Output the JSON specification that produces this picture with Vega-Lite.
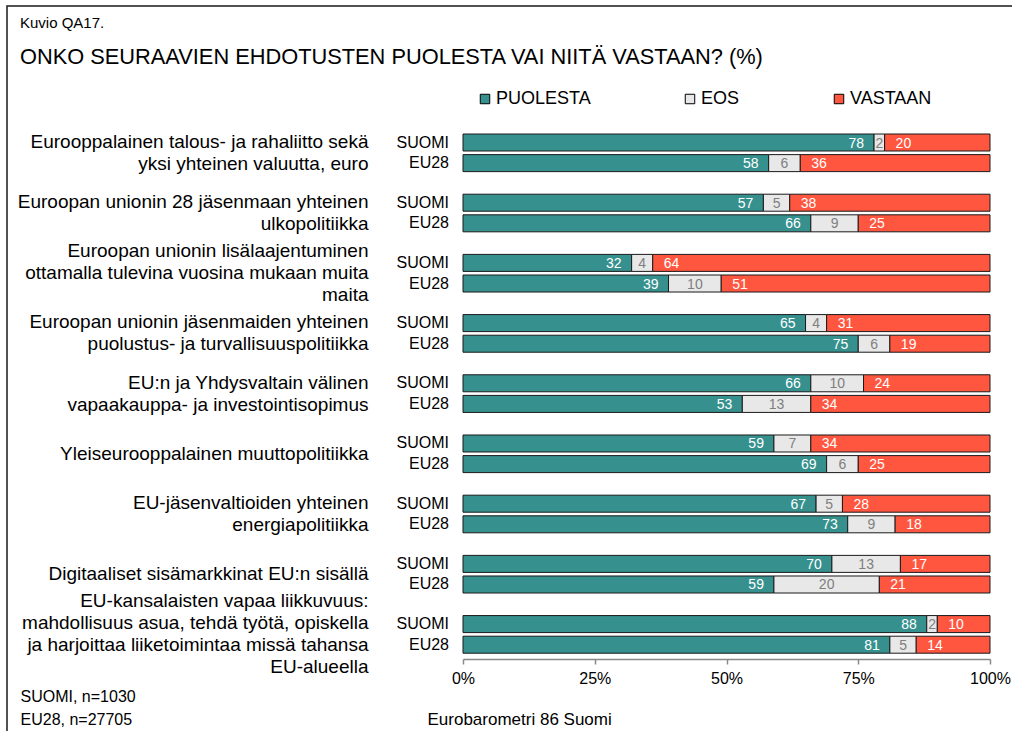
{
  "$schema": "https://vega.github.io/schema/vega-lite/v6.json",
  "width": 1005,
  "height": 725,
  "autosize": {"type": "none"},
  "padding": {"left": 7, "top": 6, "right": 0, "bottom": 0},
  "background": "white",
  "config": {
    "font": "Liberation Sans",
    "view": {"stroke": "#1a1a1a", "strokeWidth": 1.5, "strokeDash": [1005, 1730, 725]}
  },
  "title": {
    "text": "Kuvio QA17.",
    "subtitle": "ONKO SEURAAVIEN EHDOTUSTEN PUOLESTA VAI NIITÄ VASTAAN? (%)",
    "anchor": "start",
    "frame": "group",
    "orient": "top",
    "offset": -63,
    "dx": 13,
    "fontSize": 15,
    "fontWeight": "normal",
    "color": "#000",
    "subtitleFontSize": 21.8,
    "subtitleColor": "#000",
    "subtitlePadding": 16
  },
  "data": {
    "values": [
      {"cat": "Eurooppalainen talous- ja rahaliitto sekä|yksi yhteinen valuutta, euro", "country": "SUOMI", "resp": "PUOLESTA", "k": 1, "value": 78},
      {"cat": "Eurooppalainen talous- ja rahaliitto sekä|yksi yhteinen valuutta, euro", "country": "SUOMI", "resp": "EOS", "k": 2, "value": 2},
      {"cat": "Eurooppalainen talous- ja rahaliitto sekä|yksi yhteinen valuutta, euro", "country": "SUOMI", "resp": "VASTAAN", "k": 3, "value": 20},
      {"cat": "Eurooppalainen talous- ja rahaliitto sekä|yksi yhteinen valuutta, euro", "country": "EU28", "resp": "PUOLESTA", "k": 1, "value": 58},
      {"cat": "Eurooppalainen talous- ja rahaliitto sekä|yksi yhteinen valuutta, euro", "country": "EU28", "resp": "EOS", "k": 2, "value": 6},
      {"cat": "Eurooppalainen talous- ja rahaliitto sekä|yksi yhteinen valuutta, euro", "country": "EU28", "resp": "VASTAAN", "k": 3, "value": 36},
      {"cat": "Euroopan unionin 28 jäsenmaan yhteinen|ulkopolitiikka", "country": "SUOMI", "resp": "PUOLESTA", "k": 1, "value": 57},
      {"cat": "Euroopan unionin 28 jäsenmaan yhteinen|ulkopolitiikka", "country": "SUOMI", "resp": "EOS", "k": 2, "value": 5},
      {"cat": "Euroopan unionin 28 jäsenmaan yhteinen|ulkopolitiikka", "country": "SUOMI", "resp": "VASTAAN", "k": 3, "value": 38},
      {"cat": "Euroopan unionin 28 jäsenmaan yhteinen|ulkopolitiikka", "country": "EU28", "resp": "PUOLESTA", "k": 1, "value": 66},
      {"cat": "Euroopan unionin 28 jäsenmaan yhteinen|ulkopolitiikka", "country": "EU28", "resp": "EOS", "k": 2, "value": 9},
      {"cat": "Euroopan unionin 28 jäsenmaan yhteinen|ulkopolitiikka", "country": "EU28", "resp": "VASTAAN", "k": 3, "value": 25},
      {"cat": "Euroopan unionin lisälaajentuminen|ottamalla tulevina vuosina mukaan muita|maita", "country": "SUOMI", "resp": "PUOLESTA", "k": 1, "value": 32},
      {"cat": "Euroopan unionin lisälaajentuminen|ottamalla tulevina vuosina mukaan muita|maita", "country": "SUOMI", "resp": "EOS", "k": 2, "value": 4},
      {"cat": "Euroopan unionin lisälaajentuminen|ottamalla tulevina vuosina mukaan muita|maita", "country": "SUOMI", "resp": "VASTAAN", "k": 3, "value": 64},
      {"cat": "Euroopan unionin lisälaajentuminen|ottamalla tulevina vuosina mukaan muita|maita", "country": "EU28", "resp": "PUOLESTA", "k": 1, "value": 39},
      {"cat": "Euroopan unionin lisälaajentuminen|ottamalla tulevina vuosina mukaan muita|maita", "country": "EU28", "resp": "EOS", "k": 2, "value": 10},
      {"cat": "Euroopan unionin lisälaajentuminen|ottamalla tulevina vuosina mukaan muita|maita", "country": "EU28", "resp": "VASTAAN", "k": 3, "value": 51},
      {"cat": "Euroopan unionin jäsenmaiden yhteinen|puolustus- ja turvallisuuspolitiikka", "country": "SUOMI", "resp": "PUOLESTA", "k": 1, "value": 65},
      {"cat": "Euroopan unionin jäsenmaiden yhteinen|puolustus- ja turvallisuuspolitiikka", "country": "SUOMI", "resp": "EOS", "k": 2, "value": 4},
      {"cat": "Euroopan unionin jäsenmaiden yhteinen|puolustus- ja turvallisuuspolitiikka", "country": "SUOMI", "resp": "VASTAAN", "k": 3, "value": 31},
      {"cat": "Euroopan unionin jäsenmaiden yhteinen|puolustus- ja turvallisuuspolitiikka", "country": "EU28", "resp": "PUOLESTA", "k": 1, "value": 75},
      {"cat": "Euroopan unionin jäsenmaiden yhteinen|puolustus- ja turvallisuuspolitiikka", "country": "EU28", "resp": "EOS", "k": 2, "value": 6},
      {"cat": "Euroopan unionin jäsenmaiden yhteinen|puolustus- ja turvallisuuspolitiikka", "country": "EU28", "resp": "VASTAAN", "k": 3, "value": 19},
      {"cat": "EU:n ja Yhdysvaltain välinen|vapaakauppa- ja investointisopimus", "country": "SUOMI", "resp": "PUOLESTA", "k": 1, "value": 66},
      {"cat": "EU:n ja Yhdysvaltain välinen|vapaakauppa- ja investointisopimus", "country": "SUOMI", "resp": "EOS", "k": 2, "value": 10},
      {"cat": "EU:n ja Yhdysvaltain välinen|vapaakauppa- ja investointisopimus", "country": "SUOMI", "resp": "VASTAAN", "k": 3, "value": 24},
      {"cat": "EU:n ja Yhdysvaltain välinen|vapaakauppa- ja investointisopimus", "country": "EU28", "resp": "PUOLESTA", "k": 1, "value": 53},
      {"cat": "EU:n ja Yhdysvaltain välinen|vapaakauppa- ja investointisopimus", "country": "EU28", "resp": "EOS", "k": 2, "value": 13},
      {"cat": "EU:n ja Yhdysvaltain välinen|vapaakauppa- ja investointisopimus", "country": "EU28", "resp": "VASTAAN", "k": 3, "value": 34},
      {"cat": "Yleiseurooppalainen muuttopolitiikka", "country": "SUOMI", "resp": "PUOLESTA", "k": 1, "value": 59},
      {"cat": "Yleiseurooppalainen muuttopolitiikka", "country": "SUOMI", "resp": "EOS", "k": 2, "value": 7},
      {"cat": "Yleiseurooppalainen muuttopolitiikka", "country": "SUOMI", "resp": "VASTAAN", "k": 3, "value": 34},
      {"cat": "Yleiseurooppalainen muuttopolitiikka", "country": "EU28", "resp": "PUOLESTA", "k": 1, "value": 69},
      {"cat": "Yleiseurooppalainen muuttopolitiikka", "country": "EU28", "resp": "EOS", "k": 2, "value": 6},
      {"cat": "Yleiseurooppalainen muuttopolitiikka", "country": "EU28", "resp": "VASTAAN", "k": 3, "value": 25},
      {"cat": "EU-jäsenvaltioiden yhteinen|energiapolitiikka", "country": "SUOMI", "resp": "PUOLESTA", "k": 1, "value": 67},
      {"cat": "EU-jäsenvaltioiden yhteinen|energiapolitiikka", "country": "SUOMI", "resp": "EOS", "k": 2, "value": 5},
      {"cat": "EU-jäsenvaltioiden yhteinen|energiapolitiikka", "country": "SUOMI", "resp": "VASTAAN", "k": 3, "value": 28},
      {"cat": "EU-jäsenvaltioiden yhteinen|energiapolitiikka", "country": "EU28", "resp": "PUOLESTA", "k": 1, "value": 73},
      {"cat": "EU-jäsenvaltioiden yhteinen|energiapolitiikka", "country": "EU28", "resp": "EOS", "k": 2, "value": 9},
      {"cat": "EU-jäsenvaltioiden yhteinen|energiapolitiikka", "country": "EU28", "resp": "VASTAAN", "k": 3, "value": 18},
      {"cat": "Digitaaliset sisämarkkinat EU:n sisällä", "country": "SUOMI", "resp": "PUOLESTA", "k": 1, "value": 70},
      {"cat": "Digitaaliset sisämarkkinat EU:n sisällä", "country": "SUOMI", "resp": "EOS", "k": 2, "value": 13},
      {"cat": "Digitaaliset sisämarkkinat EU:n sisällä", "country": "SUOMI", "resp": "VASTAAN", "k": 3, "value": 17},
      {"cat": "Digitaaliset sisämarkkinat EU:n sisällä", "country": "EU28", "resp": "PUOLESTA", "k": 1, "value": 59},
      {"cat": "Digitaaliset sisämarkkinat EU:n sisällä", "country": "EU28", "resp": "EOS", "k": 2, "value": 20},
      {"cat": "Digitaaliset sisämarkkinat EU:n sisällä", "country": "EU28", "resp": "VASTAAN", "k": 3, "value": 21},
      {"cat": "EU-kansalaisten vapaa liikkuvuus:|mahdollisuus asua, tehdä työtä, opiskella|ja harjoittaa liiketoimintaa missä tahansa|EU-alueella", "country": "SUOMI", "resp": "PUOLESTA", "k": 1, "value": 88},
      {"cat": "EU-kansalaisten vapaa liikkuvuus:|mahdollisuus asua, tehdä työtä, opiskella|ja harjoittaa liiketoimintaa missä tahansa|EU-alueella", "country": "SUOMI", "resp": "EOS", "k": 2, "value": 2},
      {"cat": "EU-kansalaisten vapaa liikkuvuus:|mahdollisuus asua, tehdä työtä, opiskella|ja harjoittaa liiketoimintaa missä tahansa|EU-alueella", "country": "SUOMI", "resp": "VASTAAN", "k": 3, "value": 10},
      {"cat": "EU-kansalaisten vapaa liikkuvuus:|mahdollisuus asua, tehdä työtä, opiskella|ja harjoittaa liiketoimintaa missä tahansa|EU-alueella", "country": "EU28", "resp": "PUOLESTA", "k": 1, "value": 81},
      {"cat": "EU-kansalaisten vapaa liikkuvuus:|mahdollisuus asua, tehdä työtä, opiskella|ja harjoittaa liiketoimintaa missä tahansa|EU-alueella", "country": "EU28", "resp": "EOS", "k": 2, "value": 5},
      {"cat": "EU-kansalaisten vapaa liikkuvuus:|mahdollisuus asua, tehdä työtä, opiskella|ja harjoittaa liiketoimintaa missä tahansa|EU-alueella", "country": "EU28", "resp": "VASTAAN", "k": 3, "value": 14}
    ]
  },
  "encoding": {
    "y": {
      "field": "cat",
      "type": "nominal",
      "sort": null,
      "scale": {
        "domain": [
          "Eurooppalainen talous- ja rahaliitto sekä|yksi yhteinen valuutta, euro",
          "Euroopan unionin 28 jäsenmaan yhteinen|ulkopolitiikka",
          "Euroopan unionin lisälaajentuminen|ottamalla tulevina vuosina mukaan muita|maita",
          "Euroopan unionin jäsenmaiden yhteinen|puolustus- ja turvallisuuspolitiikka",
          "EU:n ja Yhdysvaltain välinen|vapaakauppa- ja investointisopimus",
          "Yleiseurooppalainen muuttopolitiikka",
          "EU-jäsenvaltioiden yhteinen|energiapolitiikka",
          "Digitaaliset sisämarkkinat EU:n sisällä",
          "EU-kansalaisten vapaa liikkuvuus:|mahdollisuus asua, tehdä työtä, opiskella|ja harjoittaa liiketoimintaa missä tahansa|EU-alueella"
        ],
        "range": [128, 647.2],
        "paddingInner": 0.375,
        "paddingOuter": 0
      },
      "axis": {
        "orient": "left",
        "offset": -456,
        "domain": false,
        "ticks": false,
        "grid": false,
        "labelPadding": 95,
        "labelFontSize": 19,
        "labelColor": "#000",
        "labelLimit": 500,
        "labelOverlap": false,
        "labelLineHeight": 22,
        "labelExpr": "split(datum.label, '|')",
        "labelOffset": {
          "condition": [
            {"test": "length(split(datum.value, '|')) == 2", "value": -11},
            {"test": "length(split(datum.value, '|')) == 3", "value": -22},
            {"test": "length(split(datum.value, '|')) == 4", "value": -33}
          ],
          "value": 0
        },
        "title": ["SUOMI, n=1030", "EU28, n=27705"],
        "titleAngle": 0,
        "titleAlign": "left",
        "titleBaseline": "top",
        "titleX": -443,
        "titleY": 682,
        "titleFontSize": 16,
        "titleFontWeight": "normal",
        "titleLineHeight": 23,
        "titleColor": "#000"
      }
    },
    "yOffset": {
      "field": "country",
      "type": "nominal",
      "sort": ["SUOMI", "EU28"],
      "scale": {"domain": ["SUOMI", "EU28"], "paddingInner": 0.175, "paddingOuter": 0}
    }
  },
  "layer": [
    {
      "mark": {"type": "bar", "stroke": "#1a1a1a", "strokeWidth": 1},
      "encoding": {
        "x": {
          "field": "value",
          "type": "quantitative",
          "stack": "zero",
          "scale": {"domain": [0, 100], "range": [456, 983], "nice": false},
          "axis": {
            "orient": "bottom",
            "offset": -72,
            "values": [0, 25, 50, 75, 100],
            "labelExpr": "datum.value + '%'",
            "grid": false,
            "domainColor": "#888",
            "domainWidth": 1.5,
            "tickColor": "#888",
            "tickWidth": 1.5,
            "tickSize": 5,
            "labelFontSize": 16,
            "labelColor": "#000",
            "labelPadding": 6,
            "labelFlush": false,
            "title": "Eurobarometri 86 Suomi",
            "titleFontSize": 17,
            "titleFontWeight": "normal",
            "titleColor": "#000",
            "titleAlign": "left",
            "titleBaseline": "middle",
            "titleX": 420,
            "titleY": 60
          }
        },
        "color": {
          "field": "resp",
          "type": "nominal",
          "scale": {"domain": ["PUOLESTA", "EOS", "VASTAAN"], "range": ["#36918E", "#E8E8E8", "#FF5640"]},
          "legend": {
            "orient": "none",
            "legendX": 469,
            "legendY": 84,
            "direction": "horizontal",
            "title": null,
            "symbolType": "square",
            "symbolSize": 90,
            "symbolStrokeColor": "#000",
            "symbolStrokeWidth": 1,
            "labelFontSize": 18,
            "labelColor": "#000",
            "labelOffset": 2,
            "columnPadding": 90
          }
        },
        "order": {"field": "k", "type": "quantitative"}
      }
    },
    {
      "transform": [
        {"stack": "value", "groupby": ["cat", "country"], "sort": [{"field": "k"}], "as": ["v0", "v1"]},
        {"filter": "datum.resp === 'PUOLESTA'"}
      ],
      "mark": {"type": "text", "align": "right", "baseline": "middle", "dx": -10, "dy": 1, "fontSize": 14, "color": "white"},
      "encoding": {
        "x": {"field": "v1", "type": "quantitative"},
        "text": {"field": "value", "type": "quantitative"}
      }
    },
    {
      "transform": [
        {"stack": "value", "groupby": ["cat", "country"], "sort": [{"field": "k"}], "as": ["v0", "v1"]},
        {"filter": "datum.resp === 'EOS'"},
        {"fold": ["v0", "v1"], "as": ["edge", "pos"]}
      ],
      "mark": {"type": "text", "align": "center", "baseline": "middle", "dy": 1, "fontSize": 14, "color": "#7F7F7F"},
      "encoding": {
        "x": {"aggregate": "mean", "field": "pos", "type": "quantitative"},
        "text": {"field": "value", "type": "quantitative"}
      }
    },
    {
      "transform": [
        {"stack": "value", "groupby": ["cat", "country"], "sort": [{"field": "k"}], "as": ["v0", "v1"]},
        {"filter": "datum.resp === 'VASTAAN'"}
      ],
      "mark": {"type": "text", "align": "left", "baseline": "middle", "dx": 11, "dy": 1, "fontSize": 14, "color": "white"},
      "encoding": {
        "x": {"field": "v0", "type": "quantitative"},
        "text": {"field": "value", "type": "quantitative"}
      }
    },
    {
      "transform": [{"filter": "datum.resp === 'PUOLESTA'"}],
      "mark": {"type": "text", "align": "right", "baseline": "middle", "dx": -14, "fontSize": 16, "color": "#000"},
      "encoding": {
        "x": {"datum": 0, "type": "quantitative"},
        "text": {"field": "country"}
      }
    }
  ]
}
